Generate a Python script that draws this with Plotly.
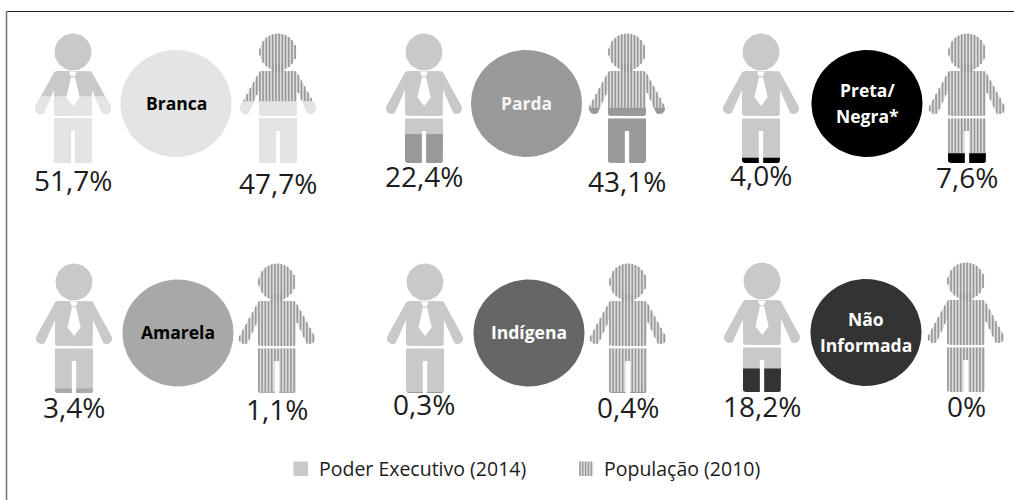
import numpy as np
import plotly.graph_objects as go

# ---- data ----
categories = ["Branca", "Parda", "Preta/<br>Negra*", "Amarela", "Indígena", "Não<br>Informada"]
executivo = [51.7, 22.4, 4.0, 3.4, 0.3, 18.2]
populacao = [47.7, 43.1, 7.6, 1.1, 0.4, 0.0]
exec_labels = ["51,7%", "22,4%", "4,0%", "3,4%", "0,3%", "18,2%"]
pop_labels = ["47,7%", "43,1%", "7,6%", "1,1%", "0,4%", "0%"]
legend_names = ["Poder Executivo (2014)", "População (2010)"]

# ---- styles and layout ----
cat_colors = ["#e4e4e4", "#999999", "#000000", "#a8a8a8", "#666666", "#333333"]
cat_text = ["#000000", "#f4f4f4", "#ffffff", "#000000", "#ffffff", "#ffffff"]
BASE = "#c9c9c9"
STRIPE = "#979797"
UNDER = "#dedede"
FONT = "Open Sans"
exec_pos = [(73, 34), (424, 34), (761, 34), (74, 264), (425, 264), (762, 263)]
pop_pos = [(278, 34), (627, 34), (967, 34), (277, 264), (628, 264), (966, 263)]
circle_pos = [(176, 103.5), (526.5, 103.5), (867, 103.5), (178, 333), (529, 333), (866, 332.5)]
exec_lab_pos = [(73, 180), (424, 176), (761, 175), (74, 407), (424, 404), (762, 406)]
pop_lab_pos = [(278, 183), (627, 181), (967, 177), (277, 409), (628, 407), (966, 406)]
FIG_H = 129.0


def arc(cx, cy, r, a0, a1, n=14, ry=None):
    ry = r if ry is None else ry
    t = np.radians(np.linspace(a0, a1, n))
    return [(cx + r * np.cos(v), cy + ry * np.sin(v)) for v in t]


def mirror(pts):
    return pts + [(-x, y) for x, y in reversed(pts)]


HEAD = arc(0, 18, 18.5, 0, 360, 40)
NECK = [(-7, 30), (7, 30), (7, 38), (-7, 38)]
BODY = mirror(
    [(0, 37), (16, 37)] + arc(16, 41, 4, -90, -40, 5)
    + arc(32.5, 74.5, 5.6, -25, 125, 12)
    + [(19, 56), (19, 79)] + arc(16.5, 79.5, 2.5, 0, 90, 4) + [(0, 82)]
)
LEGS = (
    [(-19, 84.5), (19, 84.5)] + arc(16.5, 126.5, 2.5, 0, 90, 4)
    + [(2.2, 129), (2.2, 97), (-2.2, 97), (-2.2, 129)]
    + arc(-16.5, 126.5, 2.5, 90, 180, 4)
)
KNOT = [(-4.2, 37.5), (3.6, 37.5), (2, 42.3), (-2, 42.3)]
TIE = [(-2, 43.3), (2, 43.3), (6.7, 63.5), (0.2, 72), (-6.5, 63.5)]
PARTS_EXEC = [HEAD, BODY, LEGS]
PARTS_POP = [HEAD, NECK, BODY, LEGS]


def clip_below(poly, level):
    """Keep the part of a polygon under y = level (y grows downwards)."""
    out = []
    for i, (x0, y0) in enumerate(poly):
        x1, y1 = poly[(i + 1) % len(poly)]
        in0, in1 = y0 >= level, y1 >= level
        if in0:
            out.append((x0, y0))
        if in0 != in1:
            s = (level - y0) / (y1 - y0)
            out.append((x0 + s * (x1 - x0), level))
    return out


def poly_xy(polys, ox, oy):
    xs, ys = [], []
    for p in polys:
        if len(p) < 3:
            continue
        xs += [ox + a for a, _ in p] + [ox + p[0][0], None]
        ys += [oy + b for _, b in p] + [oy + p[0][1], None]
    return xs, ys


def fill_trace(polys, ox, oy, color):
    x, y = poly_xy(polys, ox, oy)
    return go.Scatter(x=x, y=y, mode="lines", fill="toself", fillcolor=color,
                      line=dict(width=0, color=color), hoverinfo="skip", showlegend=False)


def stripes(polys, ox, oy, level):
    xs, ys = [], []
    for xv in np.arange(-40.5, 41, 3.2):
        for p in polys:
            cuts = []
            for i, (x0, y0) in enumerate(p):
                x1, y1 = p[(i + 1) % len(p)]
                if (x0 <= xv) != (x1 <= xv):
                    cuts.append(y0 + (xv - x0) / (x1 - x0) * (y1 - y0))
            cuts.sort()
            for k in range(0, len(cuts) - 1, 2):
                a, b = cuts[k], min(cuts[k + 1], level)
                if b > a:
                    xs += [ox + xv, ox + xv, None]
                    ys += [oy + a, oy + b, None]
    return go.Scatter(x=xs, y=ys, mode="lines", line=dict(color=STRIPE, width=1.6),
                      hoverinfo="skip", showlegend=False)


fig = go.Figure()

for i, cat in enumerate(categories):
    # executive figure: plain base, category colour rising by share
    ox, oy = exec_pos[i]
    level = FIG_H * (1 - executivo[i] / 100)
    fig.add_trace(fill_trace(PARTS_EXEC, ox, oy, BASE))
    fig.add_trace(fill_trace([clip_below(p, level) for p in PARTS_EXEC], ox, oy, cat_colors[i]))
    fig.add_trace(fill_trace([KNOT, TIE], ox, oy, "#ffffff"))

    # population figure: striped, category colour rising by share
    ox, oy = pop_pos[i]
    level = FIG_H * (1 - populacao[i] / 100)
    fig.add_trace(fill_trace(PARTS_POP, ox, oy, UNDER))
    fig.add_trace(stripes(PARTS_POP, ox, oy, level))
    if populacao[i] > 0:
        fig.add_trace(fill_trace([clip_below(p, level) for p in PARTS_POP], ox, oy, cat_colors[i]))

    # category disc
    cx, cy = circle_pos[i]
    disc = arc(cx, cy, 55.5, 0, 360, 90, ry=53.5)
    fig.add_trace(go.Scatter(x=[p[0] for p in disc], y=[p[1] for p in disc], mode="lines",
                             fill="toself", fillcolor=cat_colors[i], line=dict(width=0),
                             hoverinfo="skip", showlegend=False))
    lines = cat.split("<br>")
    for j, line in enumerate(lines):
        fig.add_annotation(x=cx, y=cy - 1 + (j - (len(lines) - 1) / 2) * 26, text=f"<b>{line}</b>",
                           showarrow=False, font=dict(family=FONT, size=17.5, color=cat_text[i]))
    fig.add_annotation(x=exec_lab_pos[i][0], y=exec_lab_pos[i][1], text=exec_labels[i],
                       showarrow=False, font=dict(family=FONT, size=28, color="#1c1c1c"))
    fig.add_annotation(x=pop_lab_pos[i][0], y=pop_lab_pos[i][1], text=pop_labels[i],
                       showarrow=False, font=dict(family=FONT, size=28, color="#1c1c1c"))

# legend
SQUARE = [(0, 0), (14.5, 0), (14.5, 14.5), (0, 14.5)]
fig.add_trace(fill_trace([SQUARE], 293.5, 461.5, BASE))
fig.add_trace(fill_trace([SQUARE], 579, 461.5, UNDER))
lx, ly = [], []
for xv in np.arange(580, 594, 2.8):
    lx += [xv, xv, None]
    ly += [461.5, 476, None]
fig.add_trace(go.Scatter(x=lx, y=ly, mode="lines", line=dict(color=STRIPE, width=1.4),
                         hoverinfo="skip", showlegend=False))
fig.add_annotation(x=317, y=468, text=legend_names[0], xanchor="left", showarrow=False,
                   font=dict(family=FONT, size=19.5, color="#1c1c1c"))
fig.add_annotation(x=601.5, y=468, text=legend_names[1], xanchor="left", showarrow=False,
                   font=dict(family=FONT, size=19.5, color="#1c1c1c"))

# frame
fig.add_shape(type="line", x0=6.5, x1=1014, y0=11.5, y1=11.5, line=dict(color="#222222", width=1.2))
fig.add_shape(type="line", x0=6.5, x1=6.5, y0=11, y1=500, line=dict(color="#777777", width=1.6))

fig.update_layout(
    width=1014, height=500, margin=dict(l=0, r=0, t=0, b=0),
    plot_bgcolor="#ffffff", paper_bgcolor="#ffffff", showlegend=False,
    xaxis=dict(range=[0, 1014], visible=False, fixedrange=True),
    yaxis=dict(range=[500, 0], visible=False, fixedrange=True),
)
fig.write_html("out.html", config={"displayModeBar": False},
               post_script="document.body.style.margin='0';document.body.style.overflow='hidden';")
